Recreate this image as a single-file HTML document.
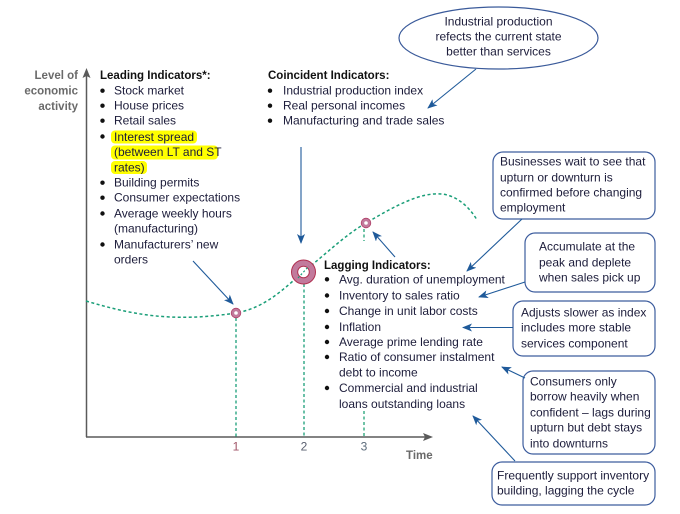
<!DOCTYPE html>
<html><head><meta charset="utf-8"><style>
html,body{margin:0;padding:0;background:#fff;}
svg{display:block;}
text{font-family:"Liberation Sans",Arial,sans-serif;font-size:12px;fill:#1c1c3a;}
.b{font-weight:bold;font-size:11.5px;fill:#111;}
.g{font-weight:bold;font-size:11.5px;fill:#6a6a6a;}
</style></head><body>
<svg width="680" height="514" viewBox="0 0 680 514" xmlns="http://www.w3.org/2000/svg">
<defs>
<marker id="ar" markerWidth="10" markerHeight="8" refX="9" refY="4" orient="auto" markerUnits="userSpaceOnUse">
<path d="M0,0 L10,4 L0,8 L2.5,4 Z" fill="#1f5a9a"/>
</marker>
</defs>
<!-- highlight -->
<rect x="111" y="130.5" width="86" height="13" rx="4" fill="#ffff00"/>
<rect x="111" y="145.5" width="107" height="14" rx="4" fill="#ffff00"/>
<rect x="111" y="161" width="36" height="13" rx="4" fill="#ffff00"/>

<!-- axes -->
<line x1="86.5" y1="74" x2="86.5" y2="437" stroke="#5a5a5a" stroke-width="1.5"/>
<path d="M86.5,68 L90.5,78 L86.5,76 L82.5,78 Z" fill="#5a5a5a"/>
<line x1="86" y1="437" x2="428" y2="437" stroke="#5a5a5a" stroke-width="1.5"/>
<path d="M433,437 L423,433 L425,437 L423,441 Z" fill="#5a5a5a"/>

<!-- vertical dashed -->
<line x1="236" y1="318" x2="236" y2="437" stroke="#1a9e78" stroke-width="1.3" stroke-dasharray="3,2.5"/>
<line x1="304" y1="284" x2="304" y2="437" stroke="#1a9e78" stroke-width="1.3" stroke-dasharray="3,2.5"/>
<line x1="364" y1="229" x2="364" y2="241" stroke="#6fc3a6" stroke-width="2" stroke-dasharray="3,2.5"/>
<line x1="364" y1="411" x2="364" y2="437" stroke="#6fc3a6" stroke-width="2" stroke-dasharray="3,2.5"/>

<!-- curve -->
<path d="M86,301 C130,314 170,323 236,313 C265,308 285,288 303,272 C325,255 345,235 366,223 C395,206 420,192 442,194 C458,196 470,208 477,220" fill="none" stroke="#1a9e78" stroke-width="1.5" stroke-dasharray="3,2.5"/>

<!-- points -->
<circle cx="236" cy="313" r="4.8" fill="#c27a9c" stroke="#b04068" stroke-width="0.8"/>
<circle cx="236" cy="313" r="1.8" fill="#fff"/>
<circle cx="303.5" cy="272" r="12" fill="#c27a9c" stroke="#b03050" stroke-width="1"/>
<circle cx="303.5" cy="272" r="5.8" fill="#fff" stroke="#b03050" stroke-width="1"/>
<circle cx="366" cy="223" r="4.8" fill="#c27a9c" stroke="#b04068" stroke-width="0.8"/>
<circle cx="366" cy="223" r="1.8" fill="#fff"/>
<line x1="298" y1="278" x2="309" y2="266" stroke="#1a9e78" stroke-width="1.2" stroke-dasharray="2,2"/>

<!-- axis labels -->
<text class="g" x="78" y="79" text-anchor="end">Level of</text>
<text class="g" x="78" y="94.5" text-anchor="end">economic</text>
<text class="g" x="78" y="110" text-anchor="end">activity</text>
<text class="g" x="406" y="459">Time</text>
<text x="236" y="450.5" text-anchor="middle" style="fill:#a05468">1</text>
<text x="304" y="450.5" text-anchor="middle" style="fill:#5a6070">2</text>
<text x="364" y="450.5" text-anchor="middle" style="fill:#5a6a7a">3</text>

<!-- Leading -->
<text class="b" x="100" y="79">Leading Indicators*:</text>
<g fill="#111">
<circle cx="102.5" cy="90.7" r="2.2"/><circle cx="102.5" cy="105.7" r="2.2"/><circle cx="102.5" cy="120.7" r="2.2"/>
<circle cx="102.5" cy="136.5" r="2.2"/><circle cx="102.5" cy="182.7" r="2.2"/><circle cx="102.5" cy="197.7" r="2.2"/>
<circle cx="102.5" cy="213.5" r="2.2"/><circle cx="102.5" cy="244.5" r="2.2"/>
</g>
<text x="114" y="94.7">Stock market</text>
<text x="114" y="109.7">House prices</text>
<text x="114" y="124.7">Retail sales</text>
<text x="114" y="141">Interest spread</text>
<text x="114" y="156">(between LT and ST</text>
<text x="114" y="171.3">rates)</text>
<text x="114" y="186.7">Building permits</text>
<text x="114" y="201.7">Consumer expectations</text>
<text x="114" y="217.7">Average weekly hours</text>
<text x="114" y="232.5">(manufacturing)</text>
<text x="114" y="248.7">Manufacturers’ new</text>
<text x="114" y="263.7">orders</text>

<!-- Coincident -->
<text class="b" x="268" y="79">Coincident Indicators:</text>
<g fill="#111">
<circle cx="270" cy="90.7" r="2.2"/><circle cx="270" cy="105.7" r="2.2"/><circle cx="270" cy="120.7" r="2.2"/>
</g>
<text x="283" y="94.7">Industrial production index</text>
<text x="283" y="109.7">Real personal incomes</text>
<text x="283" y="124.7">Manufacturing and trade sales</text>

<!-- Lagging -->
<text class="b" x="324" y="269">Lagging Indicators:</text>
<g fill="#111">
<circle cx="327" cy="279.3" r="2.2"/><circle cx="327" cy="295.5" r="2.2"/><circle cx="327" cy="311" r="2.2"/>
<circle cx="327" cy="327" r="2.2"/><circle cx="327" cy="342" r="2.2"/><circle cx="327" cy="357" r="2.2"/>
<circle cx="327" cy="388" r="2.2"/>
</g>
<text x="339" y="283.3">Avg. duration of unemployment</text>
<text x="339" y="299.7">Inventory to sales ratio</text>
<text x="339" y="315">Change in unit labor costs</text>
<text x="339" y="331">Inflation</text>
<text x="339" y="346">Average prime lending rate</text>
<text x="339" y="361">Ratio of consumer instalment</text>
<text x="339" y="376.7">debt to income</text>
<text x="339" y="392">Commercial and industrial</text>
<text x="339" y="408">loans outstanding loans</text>

<!-- ellipse -->
<ellipse cx="498.5" cy="38" rx="99.5" ry="31" fill="#fff" stroke="#3a5a9a" stroke-width="1.2"/>
<text x="498.5" y="25.7" text-anchor="middle">Industrial production</text>
<text x="498.5" y="40.7" text-anchor="middle">refects the current state</text>
<text x="498.5" y="55.7" text-anchor="middle">better than services</text>

<!-- boxes -->
<g fill="#fff" stroke="#3d5d9e" stroke-width="1.2">
<rect x="493" y="152" width="162" height="67" rx="10"/>
<rect x="525" y="233" width="130" height="59" rx="10"/>
<rect x="513" y="301" width="142" height="55" rx="10"/>
<rect x="523" y="371" width="132" height="83" rx="10"/>
<rect x="492" y="462" width="163" height="43" rx="10"/>
</g>
<text x="500" y="165.7">Businesses wait to see that</text>
<text x="500" y="181.7">upturn or downturn is</text>
<text x="500" y="196.7">confirmed before changing</text>
<text x="500" y="211.7">employment</text>
<text x="539" y="250.7">Accumulate at the</text>
<text x="539" y="266.7">peak and deplete</text>
<text x="539" y="281.7">when sales pick up</text>
<text x="521" y="316.7">Adjusts slower as index</text>
<text x="521" y="331.7">includes more stable</text>
<text x="521" y="347.7">services component</text>
<text x="530" y="385.7">Consumers only</text>
<text x="530" y="400.7">borrow heavily when</text>
<text x="530" y="416.7">confident – lags during</text>
<text x="530" y="431.7">upturn but debt stays</text>
<text x="530" y="447.7">into downturns</text>
<text x="497" y="479.7">Frequently support inventory</text>
<text x="497" y="494.7">building, lagging the cycle</text>

<!-- arrows -->
<g stroke="#1f5a9a" stroke-width="1.1" fill="none" marker-end="url(#ar)">
<line x1="476" y1="69" x2="428" y2="108"/>
<line x1="301" y1="147" x2="301" y2="243"/>
<line x1="193" y1="261" x2="233" y2="304"/>
<line x1="395" y1="257" x2="373" y2="232"/>
<line x1="522" y1="219" x2="467" y2="271"/>
<line x1="525" y1="282" x2="479" y2="297"/>
<line x1="513" y1="327.5" x2="463" y2="327.5"/>
<line x1="525" y1="378" x2="502" y2="367"/>
<line x1="515" y1="461" x2="473" y2="416"/>
</g>
</svg>
</body></html>
